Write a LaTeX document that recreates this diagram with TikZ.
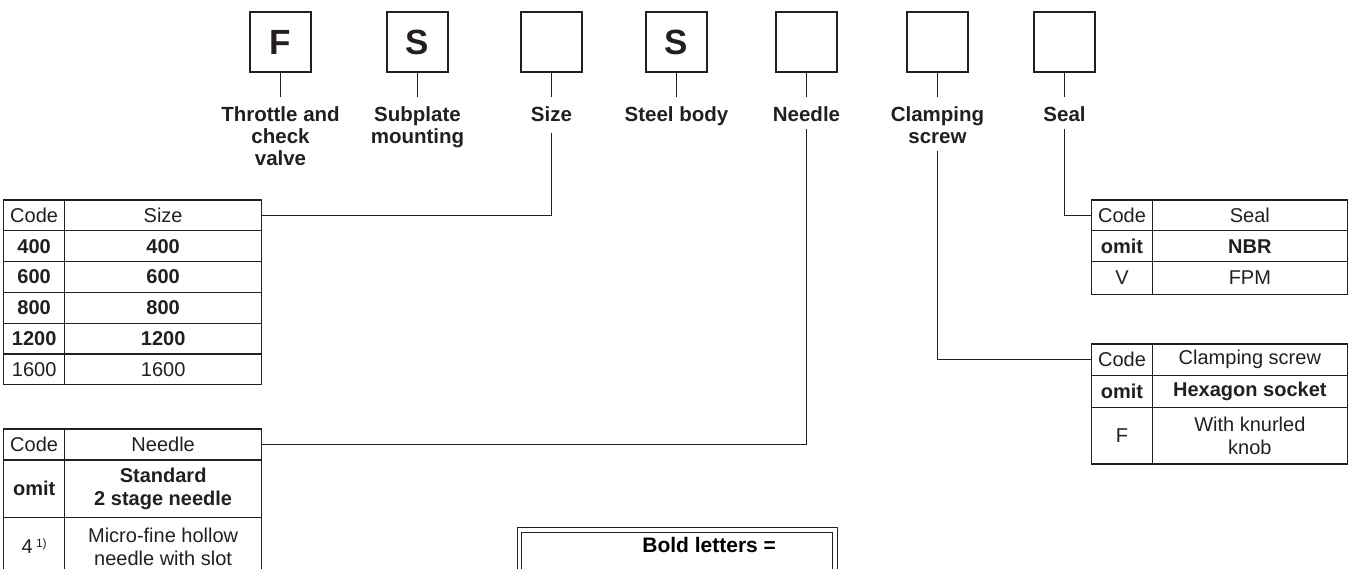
\documentclass[tikz,border=0pt]{standalone}
\usepackage{fontspec}
\setmainfont{Liberation Sans}
\definecolor{ink}{HTML}{231F20}
\begin{document}
\begin{tikzpicture}[x=1pt,y=-1pt,line width=1.3pt,color=ink,
  codebox/.style={draw,line width=1.5pt,minimum width=61pt,minimum height=60pt,inner sep=0pt,font=\fontsize{35}{35}\selectfont\bfseries},
  lbl/.style={align=center,anchor=north,inner sep=0pt,font=\fontsize{20.5}{22}\selectfont\bfseries},
  cell/.style={draw,anchor=north west,inner sep=0pt,align=center,font=\fontsize{20}{23}\selectfont},
  bcell/.style={cell,font=\fontsize{20}{23}\selectfont\bfseries},
  cw/.style={minimum width=61pt},
  dw/.style={minimum width=197pt},
  cwr/.style={minimum width=60.7pt},
  dwr/.style={minimum width=195pt},
  conn/.style={draw,line width=1.3pt}]
\path[use as bounding box] (0,0) rectangle (1348,569);
\clip (0,0) rectangle (1348,569);

% code boxes
\node[codebox] (bF)  at (280.5,42) {F};
\node[codebox] (bS1) at (417.5,42) {S};
\node[codebox] (bSz) at (551.5,42) {};
\node[codebox] (bS2) at (676.5,42) {S};
\node[codebox] (bN)  at (806.5,42) {};
\node[codebox] (bC)  at (937.5,42) {};
\node[codebox] (bSe) at (1064.5,42) {};

% labels
\node[lbl] (lF)  at (280.5,106) {Throttle and\\check\\valve};
\node[lbl] (lS1) at (417.5,106) {Subplate\\mounting};
\node[lbl] (lSz) at (551.5,106) {Size};
\node[lbl] (lS2) at (676.5,106) {Steel body};
\node[lbl] (lN)  at (806.5,106) {Needle};
\node[lbl] (lC)  at (937.5,106) {Clamping\\screw};
\node[lbl] (lSe) at (1064.5,106) {Seal};

\foreach \b/\l in {bF/lF,bS1/lS1,bSz/lSz,bS2/lS2,bN/lN,bC/lC,bSe/lSe}
  \draw[conn] (\b.south) -- ([yshift=9pt]\l.north);

% Size table
\node[cell,cw,minimum height=30.8pt] (szC) at (3,199.3) {Code};
\node[cell,dw,minimum height=30.8pt] (szH) at (64,199.3) {Size};
\node[bcell,cw,minimum height=30.8pt] (sz1a) at (3,230.1) {400};
\node[bcell,dw,minimum height=30.8pt] (sz1b) at (64,230.1) {400};
\node[bcell,cw,minimum height=30.8pt] (sz2a) at (3,260.9) {600};
\node[bcell,dw,minimum height=30.8pt] (sz2b) at (64,260.9) {600};
\node[bcell,cw,minimum height=30.8pt] (sz3a) at (3,291.7) {800};
\node[bcell,dw,minimum height=30.8pt] (sz3b) at (64,291.7) {800};
\node[bcell,cw,minimum height=30.8pt] (sz4a) at (3,322.5) {1200};
\node[bcell,dw,minimum height=30.8pt] (sz4b) at (64,322.5) {1200};
\node[cell,cw,minimum height=30.8pt] (sz5a) at (3,353.3) {1600};
\node[cell,dw,minimum height=30.8pt] (sz5b) at (64,353.3) {1600};

% Needle table
\node[cell,cw,minimum height=31pt] (ndC) at (3,428.3) {Code};
\node[cell,dw,minimum height=31pt] (ndH) at (64,428.3) {Needle};
\node[bcell,cw,minimum height=57.4pt] (nd1a) at (3,459.3) {omit};
\node[bcell,dw,minimum height=57.4pt] (nd1b) at (64,459.3) {Standard\\2 stage needle};
\node[cell,cw,minimum height=58pt] (nd2a) at (3,516.7) {4\,\raisebox{6pt}{\fontsize{12}{12}\selectfont 1)}};
\node[cell,dw,minimum height=58pt] (nd2b) at (64,516.7) {Micro-fine hollow\\needle with slot};

% Seal table
\node[cell,cwr,minimum height=30.7pt] (seC) at (1091,199.3) {Code};
\node[cell,dwr,minimum height=30.7pt] (seH) at (1151.7,199.3) {Seal};
\node[bcell,cwr,minimum height=31pt] (se1a) at (1091,230) {omit};
\node[bcell,dwr,minimum height=31pt] (se1b) at (1151.7,230) {NBR};
\node[cell,cwr,minimum height=32.5pt] (se2a) at (1091,261) {V};
\node[cell,dwr,minimum height=32.5pt] (se2b) at (1151.7,261) {FPM};

% Clamping screw table
\node[cell,cwr,minimum height=31.7pt] (clC) at (1091,343.3) {Code};
\node[cell,dwr,minimum height=31.7pt] (clH) at (1151.7,343.3) {Clamping screw};
\node[bcell,cwr,minimum height=31.7pt] (cl1a) at (1091,375) {omit};
\node[bcell,dwr,minimum height=31.7pt] (cl1b) at (1151.7,375) {Hexagon socket};
\node[cell,cwr,minimum height=56.6pt] (cl2a) at (1091,406.7) {F};
\node[cell,dwr,minimum height=56.6pt] (cl2b) at (1151.7,406.7) {With knurled\\knob};

% connectors to tables
\draw[conn] ([yshift=-11pt]lSz.south) |- (szH.east);
\draw[conn] ([yshift=-7pt]lN.south) |- (ndH.east);
\draw[conn] ([yshift=-6.3pt]lC.south) |- (clC.west);
\draw[conn] ([yshift=-7pt]lSe.south) |- (seC.west);

% legend box
\draw[line width=1pt,double,double distance=3.7pt] (519.5,529.7) rectangle (835.2,640);
\node[anchor=base west,inner sep=0pt,text=black,font=\fontsize{21}{24}\selectfont\bfseries] (bold) at (641.7,552.5) {Bold letters =};
\end{tikzpicture}
\end{document}
